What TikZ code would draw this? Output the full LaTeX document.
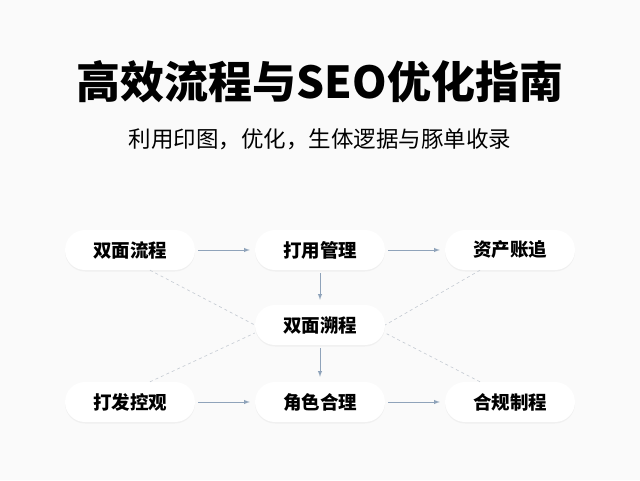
\documentclass[tikz,border=0pt]{standalone}
\usepackage{fontspec}
\newfontfamily\cjk{Noto Sans CJK SC}
\usetikzlibrary{positioning,shadows}
\definecolor{arrowc}{HTML}{8FA3BA}
\definecolor{dashc}{HTML}{C4CAD2}
\tikzset{
  stepbox/.style={rounded corners=20pt, fill=white, minimum width=130pt, minimum height=40pt,
    font=\cjk\bfseries\fontsize{18.5}{18.5}\selectfont, drop shadow={opacity=0.08, shadow xshift=0pt, shadow yshift=-1.5pt}},
  flow/.style={draw=arrowc, line width=1pt, -latex, shorten <=3pt, shorten >=5pt},
  link/.style={draw=dashc, dashed, line width=0.6pt}
}
\begin{document}
\begin{tikzpicture}[x=1pt,y=-1pt]
  \fill [white!96!gray] (0,0) rectangle (640,480);
  \useasboundingbox (0,0) rectangle (640,480);
  \node [font=\cjk\bfseries\fontsize{44}{44}\selectfont] (title) at (320,82) {高效流程与SEO优化指南};
  \node [font=\cjk\fontsize{22.5}{22.5}\selectfont] (sub) at (320,139) {利用印图，优化，生体逻据与豚单收录};
  % top row
  \node [stepbox] (dual) at (130,250) {双面流程};
  \node [stepbox] (open) at (320,250) {打用管理};
  \node [stepbox] (asset) at (510,250) {资产账追};
  % middle
  \node [stepbox] (trace) at (320,325) {双面溯程};
  % bottom row
  \node [stepbox] (ctrl) at (130,402) {打发控观};
  \node [stepbox] (role) at (320,402) {角色合理};
  \node [stepbox] (comp) at (510,402) {合规制程};
  % dashed links
  \draw [link] (dual.south) ++(20,0) -- (trace.west);
  \draw [link] (asset.south) ++(-30,0) -- (trace.east);
  \draw [link] (ctrl.north) ++(20,0) -- ([yshift=-8]trace.west);
  \draw [link] (comp.north) ++(-30,0) -- ([yshift=-8]trace.east);
  % arrows
  \draw [flow] (dual) -- (open);
  \draw [flow] (open) -- (asset);
  \draw [flow] (open) -- (trace);
  \draw [flow] (trace) -- (role);
  \draw [flow] (ctrl) -- (role);
  \draw [flow] (role) -- (comp);
\end{tikzpicture}
\end{document}
